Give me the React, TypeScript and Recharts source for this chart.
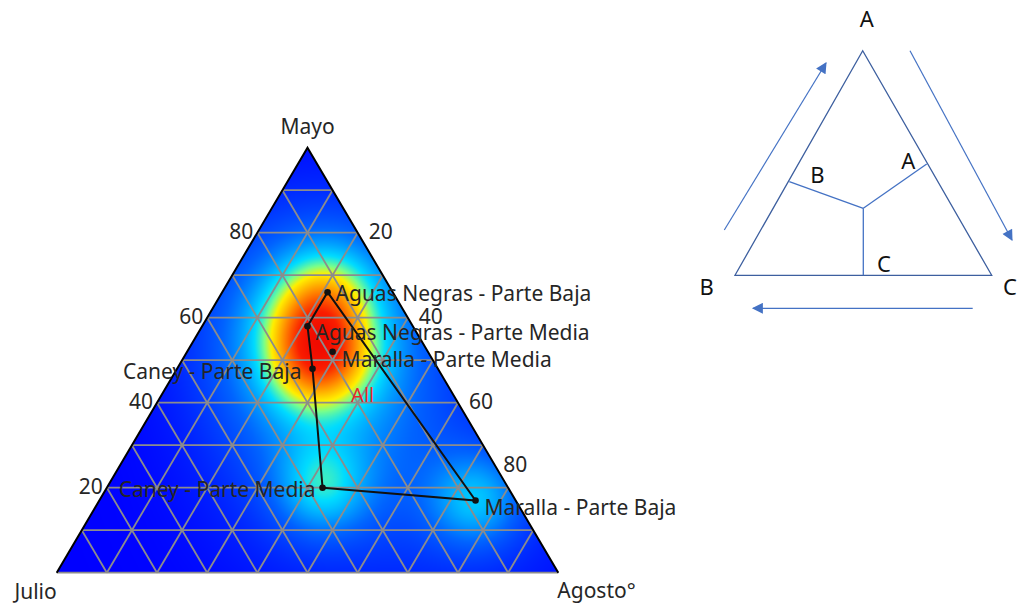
import React, { useMemo } from 'react';
import * as R from 'recharts';

const { ComposedChart, XAxis, YAxis, Line, Scatter, Customized } = R as any;

// ---------------- DATA ----------------
const siteNames = [
  'Aguas Negras - Parte Baja',
  'Aguas Negras - Parte Media',
  'Maralla - Parte Media',
  'Caney - Parte Baja',
  'Caney - Parte Media',
  'Maralla - Parte Baja',
];
const mayoPct = [66, 58, 52, 48, 20, 17];
const agostoPct = [21, 21, 29, 27, 43, 75];
const julioPct = [13, 21, 19, 25, 37, 8];
const hullOrder = [
  'Caney - Parte Media',
  'Maralla - Parte Baja',
  'Aguas Negras - Parte Baja',
  'Aguas Negras - Parte Media',
  'Caney - Parte Baja',
  'Caney - Parte Media',
];
const groupName = 'All';
const groupLabelMayo = 42;
const groupLabelAgosto = 40;
const gridTicks = [10, 20, 30, 40, 50, 60, 70, 80, 90];
const mayoTickLabels = [20, 40, 60, 80];
const agostoTickLabels = [20, 40, 60, 80];
const apexName = 'Mayo';
const leftName = 'Julio';
const rightName = 'Agosto°';

// ---------------- LAYOUT ----------------
const W = 1018;
const H = 608;
const PLOT = { left: 56.7, top: 147.7, width: 501.6, height: 425 };
const MARGIN = {
  top: PLOT.top,
  left: PLOT.left,
  right: W - PLOT.left - PLOT.width,
  bottom: H - PLOT.top - PLOT.height,
};
const FONT = '"Noto Sans", "Open Sans", sans-serif';
const TEXT = '#262626';
const labelPlacement: Record<string, { anchor: 'start' | 'end'; dx: number; dy: number }> = {
  'Aguas Negras - Parte Baja': { anchor: 'start', dx: 8, dy: 1 },
  'Aguas Negras - Parte Media': { anchor: 'start', dx: 8, dy: 6 },
  'Maralla - Parte Media': { anchor: 'start', dx: 9, dy: 7 },
  'Caney - Parte Baja': { anchor: 'end', dx: -11, dy: 2 },
  'Caney - Parte Media': { anchor: 'end', dx: -7, dy: 1 },
  'Maralla - Parte Baja': { anchor: 'start', dx: 9, dy: 7 },
};
const agostoTickOffset: Record<number, [number, number]> = { 80: [-16, -22] };

// ternary -> cartesian (domain [0,1] both)
const toXY = (m: number, a: number) => ({ x: a / 100 + m / 200, y: m / 100 });

const points = siteNames.map((name, i) => ({
  name,
  mayo: mayoPct[i],
  agosto: agostoPct[i],
  julio: julioPct[i],
  ...toXY(mayoPct[i], agostoPct[i]),
}));
const hullData = hullOrder.map((n) => points.find((p) => p.name === n)!);
const outlineData = [toXY(0, 0), toXY(100, 0), toXY(0, 100)];
const groupData = [{ name: groupName, ...toXY(groupLabelMayo, groupLabelAgosto) }];
const mayoTickData = mayoTickLabels.map((t) => ({ label: String(t), side: 'L', ...toXY(t, 0) }));
const agostoTickData = agostoTickLabels.map((t) => ({ label: String(t), side: 'R', t, ...toXY(100 - t, t) }));
const cornerData = [
  { label: apexName, pos: 'top', ...toXY(100, 0) },
  { label: leftName, pos: 'left', ...toXY(0, 0) },
  { label: rightName, pos: 'right', ...toXY(0, 100) },
];

// ---------------- helpers ----------------
function usePlotRect() {
  const anyR = R as any;
  const pa = anyR.usePlotArea ? anyR.usePlotArea() : null;
  if (pa && pa.width > 0) return { x: pa.x, y: pa.y, width: pa.width, height: pa.height };
  return { x: PLOT.left, y: PLOT.top, width: PLOT.width, height: PLOT.height };
}

const STOPS: [number, number[]][] = [
  [0, [0, 0, 255]],
  [0.2, [0, 100, 255]],
  [0.38, [0, 220, 255]],
  [0.47, [120, 255, 140]],
  [0.55, [255, 240, 0]],
  [0.72, [255, 130, 0]],
  [0.88, [250, 30, 0]],
  [1, [240, 10, 0]],
];
function cmap(v: number) {
  v = Math.max(0, Math.min(1, v));
  for (let i = 1; i < STOPS.length; i++) {
    if (v <= STOPS[i][0]) {
      const [v0, c0] = STOPS[i - 1];
      const [v1, c1] = STOPS[i];
      const t = (v - v0) / (v1 - v0);
      return [0, 1, 2].map((k) => c0[k] + (c1[k] - c0[k]) * t);
    }
  }
  return STOPS[STOPS.length - 1][1];
}

function HeatLayer() {
  const { x: ox, y: oy, width: pw, height: ph } = usePlotRect();
  const sx = (v: number) => ox + v * pw;
  const sy = (v: number) => oy + (1 - v) * ph;
  const url = useMemo(() => {
    const cw = Math.round(pw);
    const ch = Math.round(ph);
    const canvas = document.createElement('canvas');
    canvas.width = cw;
    canvas.height = ch;
    const ctx = canvas.getContext('2d');
    if (!ctx) return '';
    const img = ctx.createImageData(cw, ch);
    const pts = points.map((p) => [p.x * cw, (1 - p.y) * ch]);
    const s1 = 2 * 32 * 32;
    const s2 = 2 * 80 * 80;
    const vals = new Float32Array(cw * ch);
    let max = 0;
    for (let j = 0; j < ch; j++) {
      for (let i = 0; i < cw; i++) {
        let d = 0;
        for (const [px, py] of pts) {
          const dd = (i + 0.5 - px) ** 2 + (j + 0.5 - py) ** 2;
          d += Math.exp(-dd / s1) + 0.45 * Math.exp(-dd / s2);
        }
        vals[j * cw + i] = d;
        if (d > max) max = d;
      }
    }
    for (let k = 0; k < vals.length; k++) {
      const c = cmap(vals[k] / max);
      img.data[k * 4] = c[0];
      img.data[k * 4 + 1] = c[1];
      img.data[k * 4 + 2] = c[2];
      img.data[k * 4 + 3] = 255;
    }
    ctx.putImageData(img, 0, 0);
    return canvas.toDataURL();
  }, [pw, ph]);

  const tri = outlineData.map((p) => `${sx(p.x)},${sy(p.y)}`).join(' ');
  const lines: { x1: number; y1: number; x2: number; y2: number }[] = [];
  const seg = (a: { x: number; y: number }, b: { x: number; y: number }) =>
    lines.push({ x1: sx(a.x), y1: sy(a.y), x2: sx(b.x), y2: sy(b.y) });
  seg(toXY(0, 0), toXY(0, 100));
  gridTicks.forEach((t) => {
    seg(toXY(t, 0), toXY(t, 100 - t)); // mayo const
    seg(toXY(0, t), toXY(100 - t, t)); // agosto const
    seg(toXY(0, 100 - t), toXY(100 - t, 0)); // julio const
  });
  return (
    <g>
      <defs>
        <clipPath id="triClip">
          <polygon points={tri} />
        </clipPath>
      </defs>
      <polygon points={tri} fill="#0000ff" />
      {url && (
        <image href={url} x={ox} y={oy} width={pw} height={ph} preserveAspectRatio="none" clipPath="url(#triClip)" />
      )}
      {lines.map((l, i) => (
        <line key={i} {...l} stroke="#8c8c8c" strokeWidth={1.8} />
      ))}
    </g>
  );
}

function Schematic() {
  const blue = '#4472c4';
  const edge = '#3d5f9f';
  const A = [862.7, 50.7];
  const B = [735, 275.3];
  const C = [991.7, 275.3];
  const O = [863.3, 208.3];
  const f = { fontFamily: FONT, fontSize: 22, fill: '#111', textAnchor: 'middle' as const, dominantBaseline: 'central' as const };
  return (
    <g>
      <defs>
        <marker id="arr" viewBox="0 0 10 10" refX="9" refY="5" markerWidth="12" markerHeight="11" orient="auto-start-reverse" markerUnits="userSpaceOnUse">
          <path d="M0,0 L10,5 L0,10 z" fill={blue} />
        </marker>
      </defs>
      <polygon points={[A, B, C].map((p) => p.join(',')).join(' ')} fill="none" stroke={edge} strokeWidth={1.3} />
      <line x1={O[0]} y1={O[1]} x2={789.3} y2={181.7} stroke={blue} strokeWidth={1.3} />
      <line x1={O[0]} y1={O[1]} x2={926.7} y2={164} stroke={blue} strokeWidth={1.3} />
      <line x1={O[0]} y1={O[1]} x2={O[0]} y2={275.3} stroke={blue} strokeWidth={1.3} />
      <line x1={724.3} y1={230} x2={826} y2={63} stroke={blue} strokeWidth={1.2} markerEnd="url(#arr)" />
      <line x1={910} y1={50.7} x2={1012} y2={240} stroke={blue} strokeWidth={1.2} markerEnd="url(#arr)" />
      <line x1={972.7} y1={308.3} x2={753} y2={308.3} stroke={blue} strokeWidth={1.2} markerEnd="url(#arr)" />
      <text x={866.7} y={18} {...f}>A</text>
      <text x={817.3} y={174} {...f}>B</text>
      <text x={908.3} y={160} {...f}>A</text>
      <text x={884} y={263} {...f}>C</text>
      <text x={706.7} y={285.7} {...f}>B</text>
      <text x={1010} y={286} {...f}>C</text>
    </g>
  );
}

const PointShape = (props: any) => {
  const { cx, cy, payload } = props;
  const pl = labelPlacement[payload.name] || { anchor: 'start', dx: 8, dy: 0 };
  return (
    <g>
      <circle cx={cx} cy={cy} r={3.3} fill="#111" />
      <text
        x={cx + pl.dx}
        y={cy + pl.dy}
        textAnchor={pl.anchor}
        dominantBaseline="central"
        fontFamily={FONT}
        fontSize={21}
        fill={TEXT}
      >
        {payload.name}
      </text>
    </g>
  );
};

const GroupShape = (props: any) => {
  const { cx, cy, payload } = props;
  return (
    <text x={cx} y={cy} textAnchor="middle" dominantBaseline="central" fontFamily={FONT} fontSize={20} fill="#e8262a">
      {payload.name}
    </text>
  );
};

const TickShape = (props: any) => {
  const { cx, cy, payload } = props;
  let dx = payload.side === 'L' ? -4 : 11;
  let dy = -2;
  if (payload.side === 'R' && agostoTickOffset[payload.t]) {
    dx += agostoTickOffset[payload.t][0];
    dy += agostoTickOffset[payload.t][1];
  }
  return (
    <text
      x={cx + dx}
      y={cy + dy}
      textAnchor={payload.side === 'L' ? 'end' : 'start'}
      dominantBaseline="central"
      fontFamily={FONT}
      fontSize={21}
      fill={TEXT}
    >
      {payload.label}
    </text>
  );
};

const CornerShape = (props: any) => {
  const { cx, cy, payload } = props;
  const cfg =
    payload.pos === 'top'
      ? { x: cx, y: cy - 22, a: 'middle' }
      : payload.pos === 'left'
      ? { x: cx, y: cy + 18, a: 'end' }
      : { x: cx - 1, y: cy + 17, a: 'start' };
  return (
    <text x={cfg.x} y={cfg.y} textAnchor={cfg.a} dominantBaseline="central" fontFamily={FONT} fontSize={21} fill={TEXT}>
      {payload.label}
    </text>
  );
};

export default function App() {
  return (
    <div style={{ position: 'absolute', left: 0, top: 0, width: W, height: H, background: '#fff' }}>
      <ComposedChart width={W} height={H} margin={MARGIN}>
        <XAxis type="number" dataKey="x" domain={[0, 1]} hide />
        <YAxis type="number" dataKey="y" domain={[0, 1]} hide />
        <Customized component={HeatLayer} />
        <Line data={outlineData} dataKey="y" type="linear" stroke="#000" strokeWidth={2} dot={false} isAnimationActive={false} />
        <Line data={hullData} dataKey="y" type="linear" stroke="#111" strokeWidth={2} dot={false} isAnimationActive={false} />
        <Scatter data={groupData} dataKey="y" shape={GroupShape} isAnimationActive={false} />
        <Scatter data={points} dataKey="y" shape={PointShape} isAnimationActive={false} />
        <Scatter data={mayoTickData} dataKey="y" shape={TickShape} isAnimationActive={false} />
        <Scatter data={agostoTickData} dataKey="y" shape={TickShape} isAnimationActive={false} />
        <Scatter data={cornerData} dataKey="y" shape={CornerShape} isAnimationActive={false} />
        <Customized component={Schematic} />
      </ComposedChart>
    </div>
  );
}
